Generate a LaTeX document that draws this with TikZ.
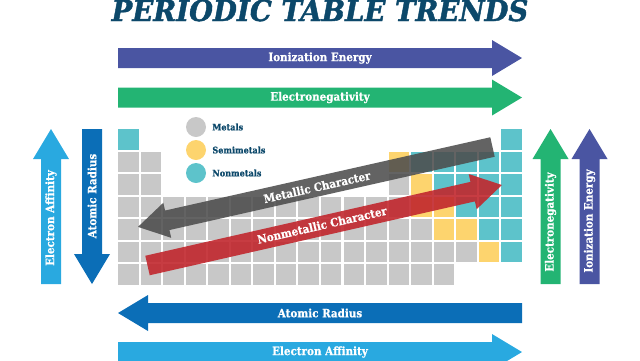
\documentclass[tikz,border=0pt]{standalone}
\usepackage{fontspec}
\setmainfont{DejaVu Serif}
\newfontfamily\trendfont{DejaVu Serif}[FakeStretch=0.9, FakeBold=0.6]
\newfontfamily\titlefont{DejaVu Serif}[FakeStretch=0.95, FakeBold=1.5]
\usepackage{tikz}
\usetikzlibrary{positioning}

\definecolor{titlenavy}{RGB}{12,72,106}
\definecolor{iecolor}{RGB}{74,85,162}
\definecolor{encolor}{RGB}{35,180,115}
\definecolor{arcolor}{RGB}{11,110,183}
\definecolor{eacolor}{RGB}{41,169,224}
\definecolor{metalgray}{RGB}{200,200,200}
\definecolor{semiyellow}{RGB}{253,212,110}
\definecolor{nonteal}{RGB}{93,195,203}
\definecolor{mcgray}{RGB}{77,77,77}
\definecolor{nmcred}{RGB}{193,39,45}

% block arrow: colour, tail, angle, length
\newcommand{\trendarrow}[4]{%
  \begin{scope}[shift={#2}, rotate=#3]
    \fill[#1] (0,-10) -- ({#4-30},-10) -- ({#4-30},-18) -- (#4,0)
      -- ({#4-30},18) -- ({#4-30},10) -- (0,10) -- cycle;
  \end{scope}}

\tikzset{
  trendlabel/.style={text=white, inner sep=0pt, font=\trendfont\bfseries\fontsize{11.5}{13}\selectfont},
  legendtext/.style={text=titlenavy, inner sep=0pt, font=\trendfont\bfseries\fontsize{9}{10}\selectfont},
  legenddot/.style={circle, inner sep=0pt, minimum size=20pt},
  metal/.style={fill=metalgray},
  semimetal/.style={fill=semiyellow},
  nonmetal/.style={fill=nonteal}
}

\begin{document}
\begin{tikzpicture}[x=1pt, y=-1pt]
    \useasboundingbox (0,0) rectangle (640,360);
    \clip (0,0) rectangle (640,360);

    \node (title) at (320,21) [anchor=base, text=titlenavy, inner sep=0pt,
      font=\titlefont\bfseries\itshape\fontsize{29}{30}\selectfont] {PERIODIC TABLE TRENDS};

    % the table
    \foreach \r/\a/\b/\k in {1/1/1/nonmetal, 1/18/18/nonmetal,
        2/1/2/metal, 2/13/13/semimetal, 2/14/18/nonmetal,
        3/1/2/metal, 3/13/13/metal, 3/14/14/semimetal, 3/15/18/nonmetal,
        4/1/13/metal, 4/14/15/semimetal, 4/16/18/nonmetal,
        5/1/14/metal, 5/15/16/semimetal, 5/17/18/nonmetal,
        6/1/16/metal, 6/17/17/semimetal, 6/18/18/nonmetal,
        7/1/15/metal}
      \foreach \c in {\a,...,\b}
        \fill[\k] ({118+(\c-1)*22.55},{129+(\r-1)*22.55}) rectangle +(20.5,20.5);

    % legend
    \node (metals dot) at (196,127) [legenddot, metal] {};
    \node (semimetals dot) at (196,150) [legenddot, semimetal] {};
    \node (nonmetals dot) at (196,173) [legenddot, nonmetal] {};
    \node (metals) [right=6pt of metals dot, legendtext] {Metals};
    \node (semimetals) [right=6pt of semimetals dot, legendtext] {Semimetals};
    \node (nonmetals) [right=6pt of nonmetals dot, legendtext] {Nonmetals};

    % horizontal trends
    \trendarrow{iecolor}{(118,58)}{0}{404}
    \trendarrow{encolor}{(118,97.5)}{0}{404}
    \trendarrow{arcolor}{(522,313)}{180}{404}
    \trendarrow{eacolor}{(118,352)}{0}{404}
    \node (ie top) at (320,58) [trendlabel] {Ionization Energy};
    \node (en top) at (320,97.5) [trendlabel] {Electronegativity};
    \node (ar bottom) at (320,313) [trendlabel] {Atomic Radius};
    \node (ea bottom) at (320,352) [trendlabel] {Electron Affinity};

    % vertical trends
    \trendarrow{eacolor}{(51,284)}{90}{155}
    \trendarrow{arcolor}{(92,129)}{-90}{155}
    \trendarrow{encolor}{(550.5,284)}{90}{155}
    \trendarrow{iecolor}{(589.5,284)}{90}{155}
    \node (ea left) at (51,218) [trendlabel, rotate=90] {Electron Affinity};
    \node (ar left) at (92,196) [trendlabel, rotate=90] {Atomic Radius};
    \node (en right) at (550.5,222) [trendlabel, rotate=90] {Electronegativity};
    \node (ie right) at (589.5,221) [trendlabel, rotate=90] {Ionization Energy};

    % across the table
    \trendarrow{mcgray, opacity=0.88}{(492.5,147)}{192.7}{363.4}
    \trendarrow{nmcred, opacity=0.9}{(147.5,265.5)}{12.8}{363.5}
    \node (metallic) at (317,187) [trendlabel, rotate=12.7] {Metallic Character};
    \node (nonmetallic) at (322,225) [trendlabel, rotate=12.8] {Nonmetallic Character};
\end{tikzpicture}
\end{document}
